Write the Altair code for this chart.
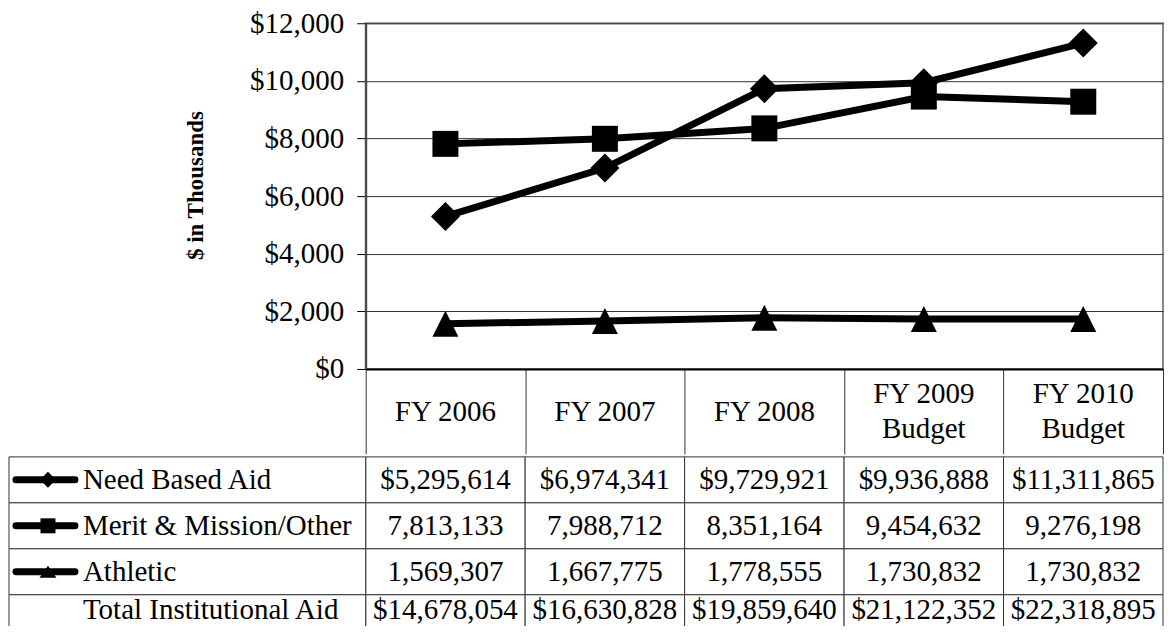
import altair as alt
import pandas as pd

# ---- data ----
years = ["FY 2006", "FY 2007", "FY 2008", "FY 2009 Budget", "FY 2010 Budget"]
header_line1 = ["FY 2006", "FY 2007", "FY 2008", "FY 2009", "FY 2010"]
header_line2 = ["", "", "", "Budget", "Budget"]
series = ["Need Based Aid", "Merit & Mission/Other", "Athletic"]
need = [5295614, 6974341, 9729921, 9936888, 11311865]
merit = [7813133, 7988712, 8351164, 9454632, 9276198]
athletic = [1569307, 1667775, 1778555, 1730832, 1730832]
total = [14678054, 16630828, 19859640, 21122352, 22318895]
total_label = "Total Institutional Aid"
y_ticks = [0, 2000, 4000, 6000, 8000, 10000, 12000]
y_title = "$ in Thousands"

FONT = "Liberation Serif"
TRI = "M0,-1L1,1L-1,1Z"
TRI_SMALL = "M0,-0.7L1,0.7L-1,0.7Z"
shapes = {"Need Based Aid": "diamond", "Merit & Mission/Other": "square", "Athletic": TRI}
legend_shapes = {"Need Based Aid": "diamond", "Merit & Mission/Other": "square", "Athletic": TRI_SMALL}
plot_sizes = {"Need Based Aid": 841, "Merit & Mission/Other": 676, "Athletic": 676}
legend_sizes = {"Need Based Aid": 256, "Merit & Mission/Other": 225, "Athletic": 289}
dollar_rows = {"Need Based Aid", total_label}
series_values = {"Need Based Aid": need, "Merit & Mission/Other": merit, "Athletic": athletic}

rows = []
for s in series:
    for yr, v in zip(years, series_values[s]):
        rows.append({"series": s, "year": yr, "thousands": v / 1000.0})
df = pd.DataFrame(rows)

hdf = pd.DataFrame({"year": years, "l1": header_line1, "l2": header_line2,
                    "two": [len(t) > 0 for t in header_line2]})

row_order = series + [total_label]
table_rows = []
for r in row_order:
    vals = series_values[r] if r in series_values else total
    for yr, v in zip(years, vals):
        table_rows.append({"row": r, "year": yr,
                           "text": ("$" if r in dollar_rows else "") + f"{v:,}"})
tdf = pd.DataFrame(table_rows)
ldf = pd.DataFrame({"row": row_order})

PLOT_W, PLOT_H = 798, 346
HEADER_H = 85
ROW_H = 46
LABEL_W = 357
FS = 29
LAST_DY = -8

# ---- top chart ----
x_enc = alt.X(
    "year:N", sort=years,
    scale=alt.Scale(domain=years, paddingInner=0, paddingOuter=0),
    axis=alt.Axis(
        title=None, orient="bottom", domain=True, domainColor="black", domainWidth=2,
        ticks=True, tickBand="extent", tickSize=HEADER_H, tickColor="#333", tickWidth=1,
        labels=False, grid=False,
    ),
)
y_enc = alt.Y(
    "thousands:Q",
    scale=alt.Scale(domain=[0, 12000], nice=False, zero=True),
    axis=alt.Axis(
        title=y_title, titleFont=FONT, titleFontSize=23, titleFontWeight="bold",
        titleColor="black", titleX=-170, titleY=162, titleAngle=270,
        titleBaseline="middle", titleAlign="center",
        values=y_ticks, format="$,.0f", labelFont=FONT, labelFontSize=FS,
        labelColor="black", labelPadding=13, tickSize=9, tickColor="black", tickWidth=1,
        domainColor="#444", domainWidth=2, grid=True, gridColor="#333", gridWidth=1,
    ),
)

base = alt.Chart(df)
layers = [base.mark_line(color="black", strokeWidth=7).encode(x=x_enc, y=y_enc, detail="series:N")]
for s in series:
    layers.append(
        base.transform_filter(alt.datum.series == s)
        .mark_point(filled=True, opacity=1, color="black", shape=shapes[s], size=plot_sizes[s])
        .encode(x=x_enc, y=y_enc)
    )

hbase = alt.Chart(hdf)
htext = dict(font=FONT, fontSize=FS, color="black", baseline="middle", align="center")
layers.append(hbase.transform_filter("!datum.two").mark_text(**htext).encode(
    x=x_enc, y=alt.value(PLOT_H + 43), text="l1:N"))
layers.append(hbase.transform_filter("datum.two").mark_text(**htext).encode(
    x=x_enc, y=alt.value(PLOT_H + 25), text="l1:N"))
layers.append(hbase.transform_filter("datum.two").mark_text(**htext).encode(
    x=x_enc, y=alt.value(PLOT_H + 60), text="l2:N"))

top = alt.layer(*layers).properties(
    width=PLOT_W, height=PLOT_H,
    view=alt.ViewBackground(stroke="#888", strokeWidth=2),
)

# ---- bottom table (label column drawn left of the plot area) ----
row_scale = alt.Scale(domain=row_order, paddingInner=0, paddingOuter=0)
yr_scale = alt.Scale(domain=years, paddingInner=0, paddingOuter=0)
ty = alt.Y("row:N", sort=row_order, scale=row_scale, axis=None)
tx = alt.X("year:N", sort=years, scale=yr_scale, axis=None)

tb = alt.Chart(tdf)
ttext = dict(font=FONT, fontSize=FS, color="black", baseline="middle", align="center")
t_layers = [
    tb.mark_rect(fill="white", stroke="#333", strokeWidth=1).encode(x=tx, y=ty),
    tb.transform_filter(alt.datum.row != total_label).mark_text(**ttext).encode(x=tx, y=ty, text="text:N"),
    tb.transform_filter(alt.datum.row == total_label).mark_text(dy=LAST_DY, **ttext).encode(x=tx, y=ty, text="text:N"),
]

lb = alt.Chart(ldf)
t_layers.append(
    lb.mark_rect(fill="white", stroke="#333", strokeWidth=1).encode(
        y=ty, x=alt.value(-LABEL_W), x2=alt.value(0)
    )
)
for s in series:
    t_layers.append(
        lb.transform_filter(alt.datum.row == s)
        .mark_rule(color="black", strokeWidth=7, strokeCap="round")
        .encode(y=ty, x=alt.value(-350), x2=alt.value(-291))
    )
    t_layers.append(
        lb.transform_filter(alt.datum.row == s)
        .mark_point(filled=True, opacity=1, color="black", shape=legend_shapes[s], size=legend_sizes[s])
        .encode(y=ty, x=alt.value(-318))
    )
ltext = dict(font=FONT, fontSize=FS, color="black", baseline="middle", align="left")
t_layers.append(
    lb.transform_filter(alt.datum.row != total_label).mark_text(**ltext).encode(
        y=ty, x=alt.value(-283), text="row:N")
)
t_layers.append(
    lb.transform_filter(alt.datum.row == total_label).mark_text(dy=LAST_DY, **ltext).encode(
        y=ty, x=alt.value(-283), text="row:N")
)

table = alt.layer(*t_layers).properties(
    width=PLOT_W, height=ROW_H * len(row_order), view=alt.ViewBackground(stroke=None)
)

chart = (
    alt.vconcat(top, table, spacing=0)
    .properties(padding={"left": 0, "top": 0, "right": 0, "bottom": -16})
    .configure_view(stroke=None)
)

chart.save("out.html", embed_options={"renderer": "svg", "actions": False})
